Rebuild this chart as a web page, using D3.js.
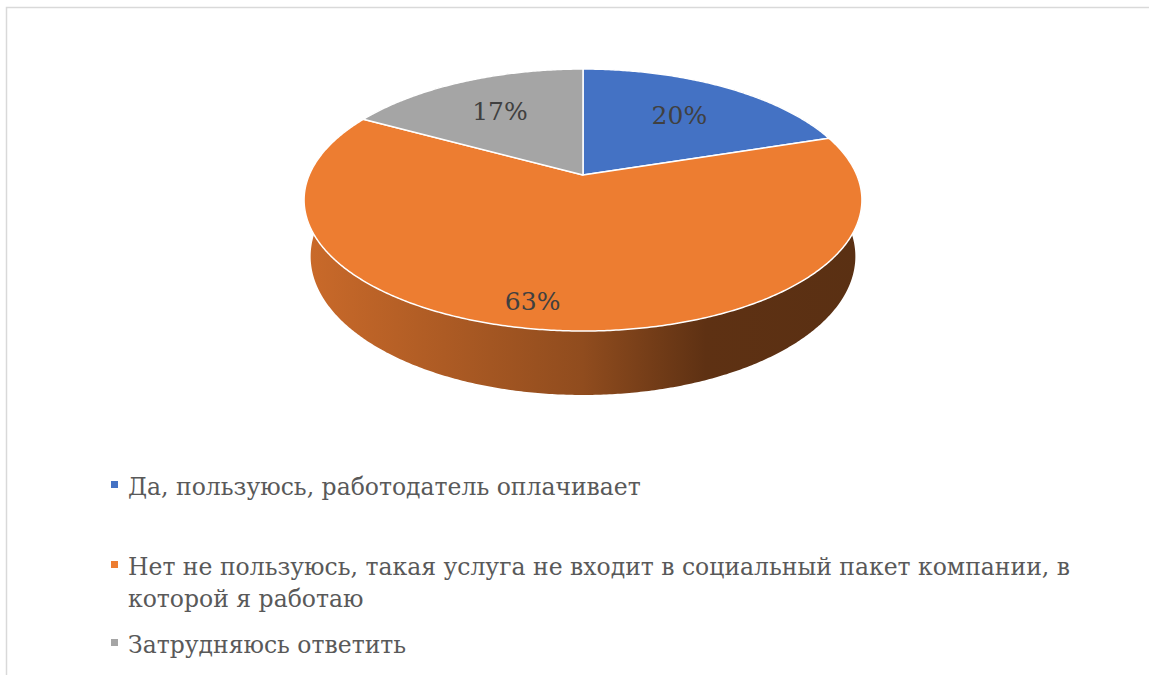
<!DOCTYPE html>
<html><head><meta charset="utf-8">
<script src="https://cdn.jsdelivr.net/npm/d3@7/dist/d3.min.js"></script>
<style>html,body{margin:0;padding:0;background:#fff;}svg{display:block;}
text{font-family:'DejaVu Serif',serif;}</style>
</head><body>
<svg id="chart" width="1149" height="675"></svg>
<script>
// ---- data ----
const categories = [
  "Да, пользуюсь, работодатель оплачивает",
  "Нет не пользуюсь, такая услуга не входит в социальный пакет компании, в которой я работаю",
  "Затрудняюсь ответить"
];
const values = [20, 63, 17];
const valueLabels = ["20%", "63%", "17%"];
const colors = ["#4472C4", "#ED7D31", "#A5A5A5"];

// ---- layout ----
const W = 1149, H = 675;
const svg = d3.select("#chart");
const cx = 583, cy = 175;           // projected pie centre
const F = 1272, D = 4.646, PHI = Math.asin(0.461), DEPTH = 0.234;
const sP = Math.sin(PHI), cP = Math.cos(PHI);
function proj(theta, r, z) {
  const X = r * Math.sin(theta), Y = r * Math.cos(theta), Z = z;
  const depth = D + Y * cP - Z * sP;
  return [cx + F * X / depth, cy - F * (Y * sP + Z * cP) / depth];
}

svg.append("rect").attr("x", 6.5).attr("y", 7.5).attr("width", W + 10).attr("height", H + 10)
  .attr("fill", "#fff").attr("stroke", "#d9d9d9").attr("stroke-width", 1.5);

const pie = d3.pie().sort(null).value(d => d).startAngle(0).endAngle(2 * Math.PI);
const arcs = pie(values);

function rim(a0, a1, z) {
  const n = Math.max(2, Math.ceil((a1 - a0) / (Math.PI / 360)));
  return d3.range(n + 1).map(i => proj(a0 + (a1 - a0) * i / n, 1, z));
}

const defs = svg.append("defs");
// side walls
arcs.forEach((a, i) => {
  const gid = "side" + i;
  const g = defs.append("linearGradient").attr("id", gid)
    .attr("gradientUnits", "userSpaceOnUse").attr("x1", 304).attr("x2", 862).attr("y1", 0).attr("y2", 0);
  [[0, 0.45], [0.5, 1.4], [0.72, 2.6], [1, 2.7]].forEach(([o, k]) =>
    g.append("stop").attr("offset", o).attr("stop-color", d3.color(colors[i]).darker(k)));
  const top = rim(a.startAngle, a.endAngle, 0);
  const bot = rim(a.startAngle, a.endAngle, -DEPTH).reverse();
  svg.append("path").attr("d", d3.line()(top.concat(bot)) + "Z")
    .attr("fill", `url(#${gid})`).attr("stroke", "none");
});
// top faces
arcs.forEach((a, i) => {
  const pts = [[cx, cy]].concat(rim(a.startAngle, a.endAngle, 0));
  svg.append("path").attr("d", d3.line()(pts) + "Z")
    .attr("fill", colors[i]).attr("stroke", "#fff").attr("stroke-width", 1.5)
    .attr("stroke-linejoin", "round");
});
// data labels
const labelR = [0.66, 0.845, 0.66];
const labelShift = [0, 0.09, 0];
arcs.forEach((a, i) => {
  const m = (a.startAngle + a.endAngle) / 2 + labelShift[i];
  const p = proj(m, labelR[i], 0);
  svg.append("text").attr("x", p[0]).attr("y", p[1] + 10)
    .attr("text-anchor", "middle")
    .attr("font-size", 25).attr("fill", "#404040").text(valueLabels[i]);
});

// legend
const legX = 128, maxW = 1000, lineH = 32;
const legBase = [495, 575, 653];
categories.forEach((c, i) => {
  svg.append("rect").attr("x", legX - 17).attr("y", legBase[i] - 14).attr("width", 7).attr("height", 7)
    .attr("fill", colors[i]);
  const t = svg.append("text").attr("x", legX).attr("y", legBase[i])
    .attr("font-size", 23.5).attr("fill", "#595959");
  const words = c.split(" ");
  let line = [], ts = t.append("tspan").attr("x", legX).attr("dy", 0);
  words.forEach(w => {
    line.push(w);
    ts.text(line.join(" "));
    if (ts.node().getComputedTextLength() > maxW && line.length > 1) {
      line.pop(); ts.text(line.join(" "));
      line = [w];
      ts = t.append("tspan").attr("x", legX).attr("dy", lineH).text(w);
    }
  });
});
</script>
</body></html>
